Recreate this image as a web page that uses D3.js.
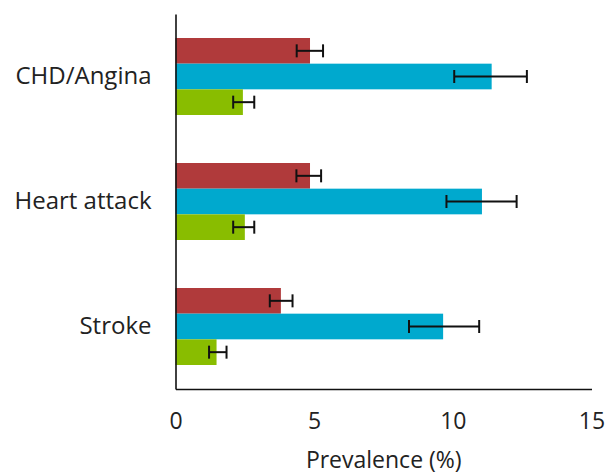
<!DOCTYPE html>
<html>
<head>
<meta charset="utf-8">
<script src="https://cdn.jsdelivr.net/npm/d3@7"></script>
<style>
  body { margin: 0; background: #fff; }
  text { font-family: "Open Sans", sans-serif; fill: #222; }
</style>
</head>
<body>
<svg id="chart"></svg>
<script>
// categories, top to bottom
const categories = ['CHD/Angina', 'Heart attack', 'Stroke'];
const seriesKeys = ['red', 'blue', 'green'];
const seriesColors = ['#b03a3b', '#00a9ce', '#89bd00'];

// prevalence (%) per series, in category order
const redValues = [4.85, 4.85, 3.8];
const redLow = [4.37, 4.36, 3.4];
const redHigh = [5.32, 5.25, 4.22];

const blueValues = [11.4, 11.05, 9.65];
const blueLow = [10.05, 9.77, 8.42];
const blueHigh = [12.67, 12.3, 10.95];

const greenValues = [2.43, 2.5, 1.48];
const greenLow = [2.08, 2.08, 1.21];
const greenHigh = [2.84, 2.84, 1.84];

const xTicks = [0, 5, 10, 15];

const series = [
  {key: 'red', values: redValues, low: redLow, high: redHigh},
  {key: 'blue', values: blueValues, low: blueLow, high: blueHigh},
  {key: 'green', values: greenValues, low: greenLow, high: greenHigh}
];

const width = 607;
const height = 475;
const margin = {top: 14, right: 15, bottom: 86, left: 175.5};

const svg = d3.select('#chart')
  .attr('width', width)
  .attr('height', height);

const g = svg.append('g')
  .attr('transform', `translate(${margin.left},${margin.top})`);

const innerW = width - margin.left - margin.right;
const innerH = height - margin.top - margin.bottom;

// scales
const xscale = d3.scaleLinear().domain([0, 15]).range([0, innerW - 0.5]);
const yscale = d3.scaleBand().domain(categories).range([0, innerH])
  .paddingInner(0.384).paddingOuter(0.192);
const yinner = d3.scaleBand().domain(seriesKeys).range([0, yscale.bandwidth()]);
const cscale = d3.scaleOrdinal().domain(seriesKeys).range(seriesColors);

// flatten into one row per bar
const rows = [];
series.forEach((s) => {
  categories.forEach((c, i) => {
    rows.push({cat: c, key: s.key, value: s.values[i], low: s.low[i], high: s.high[i]});
  });
});

// bars
g.selectAll('rect.bar').data(rows).enter().append('rect')
  .attr('class', 'bar')
  .attr('x', xscale(0))
  .attr('y', (d) => yscale(d.cat) + yinner(d.key))
  .attr('width', (d) => xscale(d.value) - xscale(0))
  .attr('height', yinner.bandwidth())
  .style('fill', (d) => cscale(d.key));

// error bars
const capH = 13;
const err = g.selectAll('g.err').data(rows).enter().append('g')
  .attr('class', 'err')
  .attr('transform', (d) => `translate(0,${yscale(d.cat) + yinner(d.key) + yinner.bandwidth() / 2})`);
err.append('line')
  .attr('x1', (d) => xscale(d.low))
  .attr('x2', (d) => xscale(d.high))
  .attr('stroke', '#111').attr('stroke-width', 2);
err.append('line')
  .attr('x1', (d) => xscale(d.low)).attr('x2', (d) => xscale(d.low))
  .attr('y1', -capH / 2).attr('y2', capH / 2)
  .attr('stroke', '#111').attr('stroke-width', 2);
err.append('line')
  .attr('x1', (d) => xscale(d.high)).attr('x2', (d) => xscale(d.high))
  .attr('y1', -capH / 2).attr('y2', capH / 2)
  .attr('stroke', '#111').attr('stroke-width', 2);

// axes
const xaxis = d3.axisBottom(xscale).tickValues(xTicks).tickSize(0).tickPadding(24);
const g_xaxis = g.append('g').attr('transform', `translate(0,${innerH})`).call(xaxis);
g_xaxis.select('.domain').attr('stroke', '#111').attr('stroke-width', 1.6);
g_xaxis.selectAll('text').style('font-size', '23px').attr('fill', '#222');

const yaxis = d3.axisLeft(yscale).tickSize(0).tickPadding(24);
const g_yaxis = g.append('g').call(yaxis);
g_yaxis.select('.domain').attr('stroke', '#111').attr('stroke-width', 1.6);
g_yaxis.selectAll('text').style('font-size', '24px').attr('fill', '#222');

// axis title
g.append('text')
  .attr('x', innerW / 2)
  .attr('y', innerH + 79)
  .attr('text-anchor', 'middle')
  .style('font-size', '23px')
  .text('Prevalence (%)');
</script>
</body>
</html>
